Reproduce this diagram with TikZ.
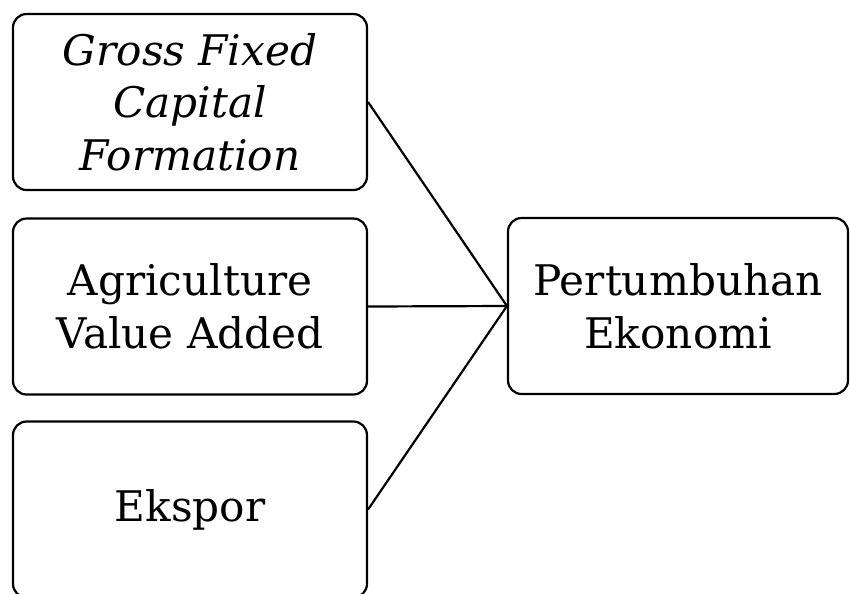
\documentclass[tikz,border=0pt]{standalone}
\usepackage{fontspec}
\setmainfont{DejaVu Serif}
\begin{document}
\begin{tikzpicture}[x=0.02cm,y=-0.02cm,
    kotak/.style={draw, line width=1.25pt, rounded corners=0.27cm, align=center,
        minimum height=3.52cm, inner sep=0pt, font=\fontsize{24}{30}\selectfont}]
\useasboundingbox (0,0) rectangle (850,593);

\node[kotak, minimum width=7.08cm] (gfcf) at (190,102) {\itshape Gross Fixed\\\itshape Capital\\\itshape Formation};
\node[kotak, minimum width=7.08cm] (agri) at (190,306.5) {Agriculture\\Value Added};
\node[kotak, minimum width=7.08cm] (ekspor) at (190,509.5) {Ekspor};
\node[kotak, minimum width=6.8cm] (growth) at (678,306) {Pertumbuhan\\Ekonomi};

\foreach \asal in {gfcf,agri,ekspor}
    {
        \draw[line width=1.25pt] (\asal.east) -- (growth.west);
    }
\end{tikzpicture}
\end{document}
